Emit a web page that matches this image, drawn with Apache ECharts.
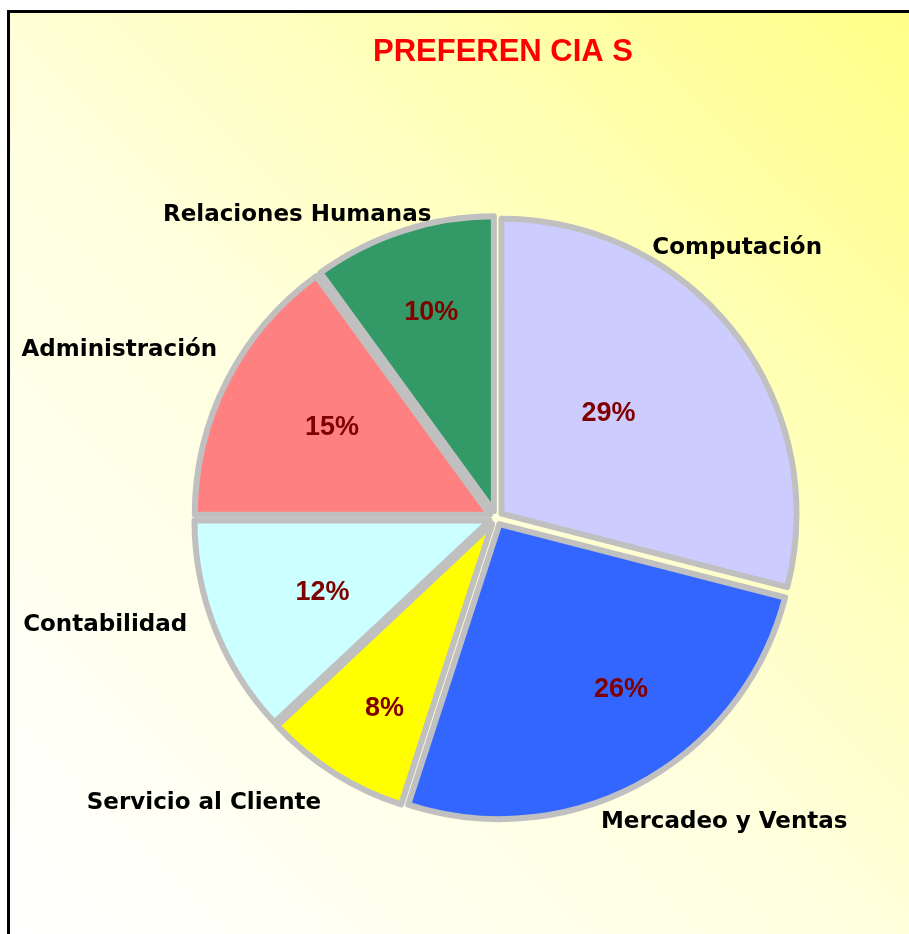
<!DOCTYPE html>
<html>
<head>
<meta charset="utf-8">
<script src="https://cdn.jsdelivr.net/npm/echarts@6/dist/echarts.min.js"></script>
<style>
  html, body { margin: 0; padding: 0; background: #fff; overflow: hidden; }
  #frame { position: absolute; left: 7px; top: 10px; border-left: 3px solid #000; border-top: 3px solid #000; }
  #main { width: 899px; height: 921px; }
</style>
</head>
<body>
<div id="frame"><div id="main"></div></div>
<script>
const chart = echarts.init(document.getElementById('main'));

// Data
const categories = ['Computación', 'Mercadeo y Ventas', 'Servicio al Cliente', 'Contabilidad', 'Administración', 'Relaciones Humanas'];
const values = [29, 26, 8, 12, 15, 10];
const colors = ['#ccccff', '#3366ff', '#ffff00', '#ccffff', '#ff8080', '#339966'];

// label nudges (dx, dy) to match the Excel-style label placement
const nameNudge = [[-111, -66], [-60, 13], [8, 5], [5, -15], [22, -17], [43, 13]];
const pctNudge = [[-40, 14], [32, 2], [-8, 28], [6, 3], [8, -3], [-5, -22]];

const font = 'Liberation Sans, Arial, sans-serif';
const nameFont = 'DejaVu Sans, Liberation Sans, sans-serif';
const center = [486, 505];

const sliceData = categories.map((name, i) => ({
  name: name,
  value: values[i],
  selected: true,
  itemStyle: { color: colors[i] }
}));

const pctData = categories.map((name, i) => ({ name: name, value: values[i] }));

const options = {
  backgroundColor: {
    type: 'linear', x: 0, y: 1, x2: 1, y2: 0,
    colorStops: [
      { offset: 0, color: '#ffffff' },
      { offset: 0.45, color: '#ffffe0' },
      { offset: 1, color: '#ffff88' }
    ]
  },
  title: {
    text: 'PREFEREN CIA S',
    left: 488,
    top: 19,
    textAlign: 'center',
    textStyle: { color: '#ff0000', fontSize: 31, fontWeight: 'bold', fontFamily: font }
  },
  series: [
    {
      type: 'pie',
      center: center,
      radius: 295,
      startAngle: 90,
      clockwise: true,
      selectedMode: 'multiple',
      selectedOffset: 7,
      animation: false,
      silent: true,
      avoidLabelOverlap: false,
      itemStyle: { borderColor: '#c0c0c0', borderWidth: 6 },
      select: { itemStyle: { borderColor: '#c0c0c0', borderWidth: 6 } },
      label: {
        show: true,
        position: 'outside',
        formatter: '{b}',
        overflow: 'none',
        color: '#000',
        fontSize: 23,
        fontWeight: 'bold',
        fontFamily: nameFont,
        textShadowColor: 'rgba(0,0,0,0.25)',
        textShadowOffsetX: 2,
        textShadowOffsetY: 2
      },
      labelLine: { show: false, length: 30, length2: 0 },
      labelLayout: p => ({ dx: nameNudge[p.dataIndex][0], dy: nameNudge[p.dataIndex][1] }),
      data: sliceData
    },
    {
      type: 'pie',
      z: 5,
      center: center,
      radius: 380,
      startAngle: 90,
      clockwise: true,
      animation: false,
      silent: true,
      itemStyle: { color: 'rgba(0,0,0,0)' },
      label: {
        show: true,
        position: 'inside',
        formatter: '{c}%',
        color: '#800000',
        fontSize: 27,
        fontWeight: 'bold',
        fontFamily: font,
        textShadowColor: 'rgba(0,0,0,0.2)',
        textShadowOffsetX: 1,
        textShadowOffsetY: 1
      },
      labelLine: { show: false },
      labelLayout: p => ({ dx: pctNudge[p.dataIndex][0], dy: pctNudge[p.dataIndex][1] }),
      data: pctData
    }
  ]
};

chart.setOption(options);
</script>
</body>
</html>
